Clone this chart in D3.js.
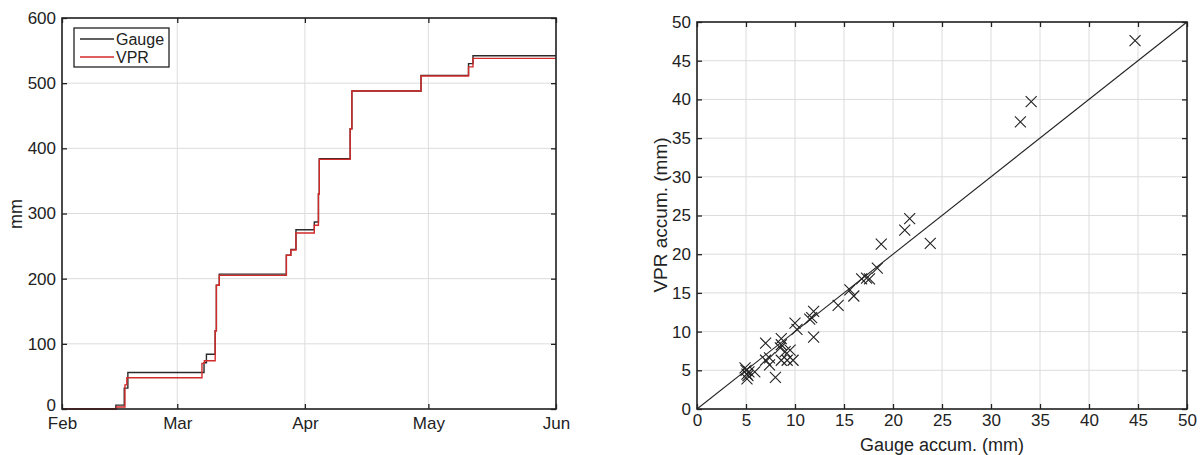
<!DOCTYPE html>
<html>
<head>
<meta charset="utf-8">
<script src="https://cdn.jsdelivr.net/npm/d3@7"></script>
<style>
  body { margin: 0; background: #fff; }
  text { font-family: "Liberation Sans", Arial, sans-serif; fill: #222; }
</style>
</head>
<body>
<div class="charts"></div>
<script>
var parseTime = d3.timeParse("%Y-%m-%d %H");

// left panel: cumulative rain (mm), step series
var gaugeDates = ["2015-02-01 00", "2015-02-14 02", "2015-02-16 03", "2015-02-17 00", "2015-03-07 12", "2015-03-08 02",
  "2015-03-10 05", "2015-03-10 12", "2015-03-11 05", "2015-03-27 12", "2015-03-28 14", "2015-03-29 20",
  "2015-04-03 07", "2015-04-04 07", "2015-04-04 12", "2015-04-12 00", "2015-04-12 10", "2015-04-29 05",
  "2015-05-10 18", "2015-05-11 20", "2015-06-01 00"];
var gaugeValues = [0, 6, 32, 56, 71, 84, 120, 190, 207, 236, 245, 275, 287, 330, 384, 430, 488, 512, 530, 542, 542];

var vprDates = ["2015-02-01 00", "2015-02-14 06", "2015-02-16 07", "2015-02-16 18", "2015-03-07 00", "2015-03-07 14",
  "2015-03-10 05", "2015-03-10 12", "2015-03-11 05", "2015-03-27 12", "2015-03-28 14", "2015-03-29 20",
  "2015-04-03 07", "2015-04-04 07", "2015-04-04 12", "2015-04-12 00", "2015-04-12 10", "2015-04-29 05",
  "2015-05-10 18", "2015-05-11 20", "2015-06-01 00"];
var vprValues = [0, 3, 37, 48, 70, 74, 120, 190, 205, 236, 244, 270, 282, 330, 383, 430, 488, 511, 525, 538, 538];

var monthTicks = ["2015-02-01 00", "2015-03-01 00", "2015-04-01 00", "2015-05-01 00", "2015-06-01 00"];
var mmTicks = [0, 100, 200, 300, 400, 500, 600];

// right panel: event accumulations (mm)
var gaugeAccum = [5.0, 5.2, 5.1, 4.9, 5.3, 5.9, 5.1, 7.0, 7.0, 7.4, 8.0, 8.6, 8.6, 8.5, 8.6, 9.0, 9.5, 9.2, 9.8, 10.0,
  10.2, 11.5, 11.7, 11.9, 11.9, 14.4, 15.6, 16.0, 16.8, 17.3, 17.6, 18.4, 18.8, 21.2, 21.7, 23.8, 33.0, 34.1, 44.7, 7.4];
var vprAccum = [5.0, 4.3, 3.9, 5.3, 4.8, 4.8, 4.5, 8.5, 6.3, 5.7, 4.1, 9.1, 8.3, 7.9, 6.3, 7.4, 7.6, 6.3, 6.3, 11.1,
  10.3, 11.6, 11.8, 12.6, 9.3, 13.4, 15.4, 14.6, 16.8, 16.9, 16.8, 18.2, 21.3, 23.1, 24.6, 21.4, 37.1, 39.7, 47.6, 6.6];
var accumTicks = d3.range(0, 51, 5);

var svg = d3.select('.charts')
  .append('svg')
  .attr('width', 1200)
  .attr('height', 455);

var boxColor = "#222";
var gridColor = "#dcdcdc";

function styleAxis(g) {
  g.select(".domain").remove();
  g.selectAll(".tick line").attr("stroke", boxColor).attr("stroke-width", 1.3);
  g.selectAll(".tick text").attr("font-size", 17).attr("fill", "#222");
}

function drawGrid(x, y, xTicks, yTicks) {
  var x0 = x.range()[0], x1 = x.range()[1];
  var y0 = y.range()[0], y1 = y.range()[1];

  svg.append("g").selectAll("line").data(xTicks).enter().append("line")
    .attr("x1", function (d) { return x(d); }).attr("x2", function (d) { return x(d); })
    .attr("y1", y0).attr("y2", y1)
    .attr("stroke", gridColor).attr("stroke-width", 1);
  svg.append("g").selectAll("line").data(yTicks).enter().append("line")
    .attr("y1", function (d) { return y(d); }).attr("y2", function (d) { return y(d); })
    .attr("x1", x0).attr("x2", x1)
    .attr("stroke", gridColor).attr("stroke-width", 1);
}

// box with inward ticks on all four sides (matlab look)
function frameAxes(x, y, xTicks, yTicks, fmtX, fmtY, xPad) {
  var x0 = x.range()[0], x1 = x.range()[1];
  var y0 = y.range()[0], y1 = y.range()[1];

  svg.append("g").attr("transform", "translate(0," + y0 + ")")
    .call(d3.axisBottom(x).tickValues(xTicks).tickFormat(fmtX).tickSize(-5).tickPadding(xPad))
    .call(styleAxis);
  svg.append("g").attr("transform", "translate(0," + y1 + ")")
    .call(d3.axisTop(x).tickValues(xTicks).tickFormat("").tickSize(-5))
    .call(styleAxis);
  var left = svg.append("g").attr("transform", "translate(" + x0 + ",0)")
    .call(d3.axisLeft(y).tickValues(yTicks).tickFormat(fmtY).tickSize(-5).tickPadding(6))
    .call(styleAxis);
  svg.append("g").attr("transform", "translate(" + x1 + ",0)")
    .call(d3.axisRight(y).tickValues(yTicks).tickFormat("").tickSize(-5))
    .call(styleAxis);

  svg.append("rect")
    .attr("x", x0).attr("y", y1)
    .attr("width", x1 - x0).attr("height", y0 - y1)
    .attr("fill", "none").attr("stroke", boxColor).attr("stroke-width", 1.6);
  return left;
}

// ---------- left panel ----------
var xTime = d3.scaleTime()
  .domain([parseTime(monthTicks[0]), parseTime(monthTicks[monthTicks.length - 1])])
  .range([62, 556]);
var yMm = d3.scaleLinear().domain([0, 600]).range([409, 18]);
var monthDates = monthTicks.map(parseTime);

drawGrid(xTime, yMm, monthDates, mmTicks);

var stepLine = d3.line()
  .x(function (d) { return xTime(d[0]); })
  .y(function (d) { return yMm(d[1]); })
  .curve(d3.curveStepAfter);

var gaugeSeries = gaugeDates.map(function (d, i) { return [parseTime(d), gaugeValues[i]]; });
var vprSeries = vprDates.map(function (d, i) { return [parseTime(d), vprValues[i]]; });

svg.append("path").datum(gaugeSeries)
  .attr("d", stepLine).attr("fill", "none")
  .attr("stroke", "#2b2b2b").attr("stroke-width", 1.4);
svg.append("path").datum(vprSeries)
  .attr("d", stepLine).attr("fill", "none")
  .attr("stroke", "#d42a2a").attr("stroke-width", 1.4);

var leftAxis = frameAxes(xTime, yMm, monthDates, mmTicks, d3.timeFormat("%b"), d3.format("d"), 8);
// nudge the "0" up so it clears "Feb"
leftAxis.selectAll(".tick text").filter(function (d) { return d === 0; }).attr("dy", "0.1em");

svg.append("text")
  .attr("transform", "translate(22,214) rotate(-90)")
  .attr("text-anchor", "middle")
  .attr("font-size", 18)
  .text("mm");

// legend
var legend = svg.append("g");
legend.append("rect")
  .attr("x", 74).attr("y", 28).attr("width", 95).attr("height", 39)
  .attr("fill", "#fff").attr("stroke", boxColor).attr("stroke-width", 1.3);
[["Gauge", "#2b2b2b", 39], ["VPR", "#d42a2a", 57]].forEach(function (item) {
  legend.append("line")
    .attr("x1", 80).attr("x2", 114).attr("y1", item[2]).attr("y2", item[2])
    .attr("stroke", item[1]).attr("stroke-width", 1.4);
  legend.append("text")
    .attr("x", 116).attr("y", item[2] + 6)
    .attr("font-size", 16)
    .text(item[0]);
});

// ---------- right panel ----------
var xAcc = d3.scaleLinear().domain([0, 50]).range([697, 1187]);
var yAcc = d3.scaleLinear().domain([0, 50]).range([409, 22]);

drawGrid(xAcc, yAcc, accumTicks, accumTicks);

svg.append("line")
  .attr("x1", xAcc(0)).attr("y1", yAcc(0))
  .attr("x2", xAcc(50)).attr("y2", yAcc(50))
  .attr("stroke", "#222").attr("stroke-width", 1.1);

var s = 5.5;
svg.append("g").selectAll("path")
  .data(gaugeAccum)
  .enter()
  .append("path")
  .attr("d", function (d, i) {
    var cx = xAcc(d), cy = yAcc(vprAccum[i]);
    return "M" + (cx - s) + "," + (cy - s) + "L" + (cx + s) + "," + (cy + s) +
      "M" + (cx - s) + "," + (cy + s) + "L" + (cx + s) + "," + (cy - s);
  })
  .attr("fill", "none")
  .attr("stroke", "#222")
  .attr("stroke-width", 1.1);

frameAxes(xAcc, yAcc, accumTicks, accumTicks, d3.format("d"), d3.format("d"), 5);

svg.append("text")
  .attr("x", 942).attr("y", 451)
  .attr("text-anchor", "middle")
  .attr("font-size", 18)
  .text("Gauge accum. (mm)");
svg.append("text")
  .attr("transform", "translate(667,215) rotate(-90)")
  .attr("text-anchor", "middle")
  .attr("font-size", 19)
  .text("VPR accum. (mm)");
</script>
</body>
</html>
